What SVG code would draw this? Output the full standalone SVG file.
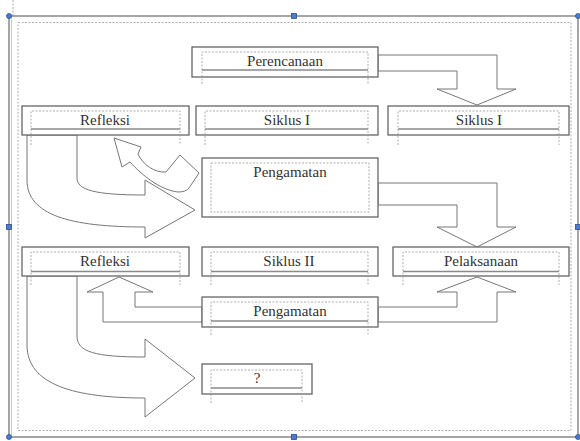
<svg xmlns="http://www.w3.org/2000/svg" width="580" height="441" viewBox="0 0 580 441">
<style>
.box{fill:#fff;stroke:#666;stroke-width:1.3}
.frame{fill:none;stroke:#9a9a9a;stroke-width:0.8;stroke-dasharray:2 1.5}
.base{stroke:#8a8a8a;stroke-width:1.6}
.lbl{font-family:"Liberation Serif",serif;font-size:15px;fill:#333;text-anchor:middle}
.arrow{fill:#fff;stroke:#777;stroke-width:1;stroke-linejoin:miter}
.handle{fill:#4a7bd0;stroke:#2a4f90;stroke-width:0.8}
</style>
<rect width="580" height="441" fill="#fff"/>
<g id="canvas-frame">
<line x1="13" y1="0" x2="13" y2="16" class="frame"/>
<rect x="9" y="16" width="569" height="421" fill="none" stroke="#888" stroke-width="1.5"/>
<line x1="11.5" y1="17" x2="11.5" y2="436" stroke="#bbb" stroke-width="0.8"/>
<rect x="18" y="22.5" width="553" height="408" class="frame"/>
</g>
<g id="connectors">
<path class="arrow" d="M378,55 L497,55 L497,89 L516,89 L477,105 L437,89 L457,89 L457,71 L378,71 Z"/>
<path class="arrow" d="M378,183 L497,183 L497,227 L516,227 L477,247 L437,227 L457,227 L457,205 L378,205 Z"/>
<path class="arrow" d="M378,307 L457,307 L457,292 L437,292 L477,277 L516,292 L497,292 L497,322 L378,322 Z"/>
<path class="arrow" d="M202,307 L135,307 L135,292 L153,292 L119,277 L87,292 L103,292 L103,322 L202,322 Z"/>
<path class="arrow" d="M27,135 L27,180 C27,215 70,227 145,227 L145,238 L195,210 L145,180 L145,195 C95,195 77,190 77,178 L77,135 Z"/>
<path class="arrow" d="M27,276 L27,345 C27,385 75,398 145,398 L145,417 L195,378 L145,339 L145,357 C95,357 77,352 77,336 L77,276 Z"/>
<path class="arrow" d="M114,138 L141,147 L138,154 C143,165 155,173 166,172 L180,155 L199,173 L189,188 Q186,192 178,192 C160,190 142,175 130,162 L122,167 Z"/>
</g>
<g id="perencanaan">
<rect class="box" x="192" y="47" width="186" height="30"/>
<path class="frame" d="M202,84 L202,52 L368,52 L368,84"/>
<line class="base" x1="202" y1="70" x2="368" y2="70"/>
<text class="lbl" x="285" y="66">Perencanaan</text>
</g>
<g id="refleksi1">
<rect class="box" x="22" y="106" width="167" height="29"/>
<path class="frame" d="M31,145 L31,111 L180,111 L180,145"/>
<line class="base" x1="31" y1="129" x2="180" y2="129"/>
<text class="lbl" x="105" y="125">Refleksi</text>
</g>
<g id="siklus1-mid">
<rect class="box" x="196" y="106" width="182" height="29"/>
<path class="frame" d="M205,145 L205,111 L368,111 L368,145"/>
<line class="base" x1="205" y1="129" x2="368" y2="129"/>
<text class="lbl" x="287" y="125">Siklus I</text>
</g>
<g id="siklus1-right">
<rect class="box" x="388" y="106" width="181" height="29"/>
<path class="frame" d="M398,145 L398,111 L559,111 L559,145"/>
<line class="base" x1="398" y1="129" x2="559" y2="129"/>
<text class="lbl" x="479" y="125">Siklus I</text>
</g>
<g id="pengamatan1">
<rect class="box" x="202" y="158" width="176" height="59"/>
<rect class="frame" x="211" y="163" width="158" height="49"/>
<text class="lbl" x="290" y="177">Pengamatan</text>
</g>
<g id="refleksi2">
<rect class="box" x="22" y="247" width="167" height="29"/>
<path class="frame" d="M31,285 L31,252 L180,252 L180,285"/>
<line class="base" x1="31" y1="271.5" x2="180" y2="271.5"/>
<text class="lbl" x="105" y="266">Refleksi</text>
</g>
<g id="siklus2">
<rect class="box" x="202" y="247" width="176" height="29"/>
<path class="frame" d="M211,285 L211,252 L368,252 L368,285"/>
<line class="base" x1="211" y1="271.5" x2="368" y2="271.5"/>
<text class="lbl" x="289" y="266">Siklus II</text>
</g>
<g id="pelaksanaan">
<rect class="box" x="393" y="247" width="176" height="29"/>
<path class="frame" d="M403,285 L403,252 L559,252 L559,285"/>
<line class="base" x1="403" y1="271.5" x2="559" y2="271.5"/>
<text class="lbl" x="481" y="266">Pelaksanaan</text>
</g>
<g id="pengamatan2">
<rect class="box" x="202" y="297" width="176" height="30"/>
<path class="frame" d="M211,335 L211,302 L368,302 L368,335"/>
<line class="base" x1="211" y1="321" x2="368" y2="321"/>
<text class="lbl" x="290" y="316">Pengamatan</text>
</g>
<g id="unknown">
<rect class="box" x="202" y="364" width="110" height="30"/>
<path class="frame" d="M211,403 L211,370 L302,370 L302,403"/>
<line class="base" x1="211" y1="388" x2="302" y2="388"/>
<text class="lbl" x="257" y="383">?</text>
</g>
<g id="handles">
<circle class="handle" cx="9" cy="16" r="2.5"/>
<rect class="handle" x="291.5" y="13.5" width="5" height="5"/>
<circle class="handle" cx="578" cy="16" r="2.5"/>
<rect class="handle" x="6.5" y="224.5" width="5" height="5"/>
<rect class="handle" x="575.5" y="224.5" width="5" height="5"/>
<circle class="handle" cx="9" cy="437" r="2.5"/>
<rect class="handle" x="291.5" y="434.5" width="5" height="5"/>
<circle class="handle" cx="578" cy="437" r="2.5"/>
</g>
</svg>
